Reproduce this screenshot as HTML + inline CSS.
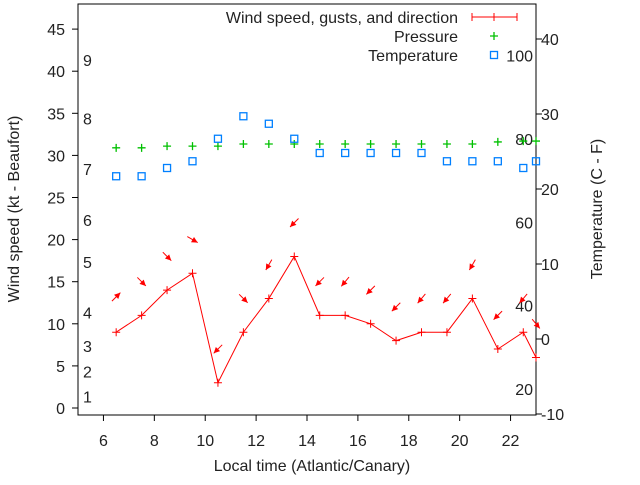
<!DOCTYPE html>
<html><head><meta charset="utf-8"><style>
body{margin:0;background:#fff}
svg text{font-family:"Liberation Sans",sans-serif;font-size:16px;fill:#222}
</style></head><body>
<svg id="c" width="640" height="480" xmlns="http://www.w3.org/2000/svg"></svg>
<script>
const hours=[6.5,7.5,8.5,9.5,10.5,11.5,12.5,13.5,14.5,15.5,16.5,17.5,18.5,19.5,20.5,21.5,22.5,23];
const windSpeed=[9,11,14,16,3,9,13,18,11,11,10,8,9,9,13,7,9,6];
const gusts=[13.2,15,18,20,7,13,17,22,15,15,14,12,13,13,17,11,13,10];
const windDir=[225,315,315,300,45,315,30,45,45,40,45,45,40,40,30,45,40,320];
const pressure=[30.9,30.9,31.1,31.1,31.1,31.35,31.35,31.35,31.35,31.35,31.35,31.35,31.35,31.35,31.35,31.6,31.7,31.7];
const tempC=[21.7,21.7,22.8,23.7,26.7,29.7,28.7,26.7,24.8,24.8,24.8,24.8,24.8,23.7,23.7,23.7,22.8,23.7];
const xTicks=[6,8,10,12,14,16,18,20,22];
const yTicks=[0,5,10,15,20,25,30,35,40,45];
const y2Ticks=[-10,0,10,20,30,40];
const bftLabels=["1","2","3","4","5","6","7","8","9"];
const bftKnots=[1,4,7,11,17,22,28,34,41];
const fLabels=[20,40,60,80,100];

const L=78,R=536,T=4,B=415;
const X=h=>L+(h-5)*(R-L)/18;
const Y=v=>408-8.42*v;
const Y2=c=>339-7.5*c;
const svg=document.getElementById('c');
const NS='http://www.w3.org/2000/svg';
function mk(t,a,p){const e=document.createElementNS(NS,t);for(const k in a)e.setAttribute(k,a[k]);(p||svg).appendChild(e);return e;}

let g=mk('g',{});


xTicks.forEach(h=>{mk('line',{x1:X(h),x2:X(h),y1:B,y2:B+6,stroke:'#000'},g);
 const t=mk('text',{x:X(h),y:B+31,'text-anchor':'middle'},g);t.textContent=h;});
let t=mk('text',{x:312,y:471,'text-anchor':'middle'},g);t.textContent='Local time (Atlantic/Canary)';


g=mk('g',{});


yTicks.forEach(v=>{mk('line',{x1:L-6,x2:L,y1:Y(v),y2:Y(v),stroke:'#000'},g);
 const t=mk('text',{x:L-13,y:Y(v)+6,'text-anchor':'end'},g);t.textContent=v;});
t=mk('text',{x:19,y:209,'text-anchor':'middle',transform:'rotate(-90 19 209)'},g);t.textContent='Wind speed (kt - Beaufort)';

bftLabels.forEach((s,i)=>{const t=mk('text',{x:83,y:Y(bftKnots[i])+3},g);t.textContent=s;});

g=mk('g',{});


y2Ticks.forEach(c=>{mk('line',{x1:R,x2:R+6,y1:Y2(c),y2:Y2(c),stroke:'#000'},g);
 const t=mk('text',{x:R+5,y:Y2(c)+6},g);t.textContent=c;});
fLabels.forEach(f=>{const t=mk('text',{x:533,y:Y2((f-32)*5/9)+6,'text-anchor':'end'},g);t.textContent=f;});
t=mk('text',{x:602,y:209,'text-anchor':'middle',transform:'rotate(-90 602 209)'},g);t.textContent='Temperature (C - F)';


const fr=mk('rect',{x:L,y:T,width:R-L,height:B-T,fill:'none',stroke:'#000'});



g=mk('g',{stroke:'#00c000','stroke-width':1.3});


pressure.forEach((p,i)=>{const x=X(hours[i]),y=Y(p);
 mk('path',{d:`M${x-4} ${y}H${x+4}M${x} ${y-4}V${y+4}`},g);});
g=mk('g',{stroke:'#0080ff','stroke-width':1.3,fill:'none'});


tempC.forEach((c,i)=>{mk('rect',{x:X(hours[i])-3.5,y:Y2(c)-3.5,width:7,height:7},g);});
g=mk('g',{stroke:'#f00',fill:'none'});


mk('polyline',{points:windSpeed.map((v,i)=>X(hours[i])+','+Y(v)).join(' ')},g);
windSpeed.forEach((v,i)=>{const x=X(hours[i]),y=Y(v);mk('path',{d:`M${x-4} ${y}H${x+4}M${x} ${y-4}V${y+4}`},g);});
g=mk('g',{stroke:'#f00',fill:'#f00'});


gusts.forEach((v,i)=>{const cx=X(hours[i]),cy=Y(v);
 const a=(windDir[i]+180)*Math.PI/180;const dx=Math.sin(a),dy=-Math.cos(a);
 const x1=cx-dx*6,y1=cy-dy*6,x2=cx+dx*6,y2=cy+dy*6;
 mk('line',{x1,y1,x2,y2},g);
 const px=-dy,py=dx;
 mk('polygon',{points:`${x2},${y2} ${x2-dx*6+px*3},${y2-dy*6+py*3} ${x2-dx*6-px*3},${y2-dy*6-py*3}`,stroke:'none'},g);});

g=mk('g',{});


[['Wind speed, gusts, and direction',17],['Pressure',36],['Temperature',55]].forEach(([s,y])=>{
 const t=mk('text',{x:458,y:y+6,'text-anchor':'end'},g);t.textContent=s;});
mk('path',{d:'M472 17H517M472 13V21M517 13V21M494 13V21',stroke:'#f00'},g);
mk('path',{d:'M490 36H498M494 32V40',stroke:'#00c000','stroke-width':1.3},g);
mk('rect',{x:490.5,y:51.5,width:7,height:7,fill:'none',stroke:'#0080ff','stroke-width':1.3},g);
</script>
</body></html>
